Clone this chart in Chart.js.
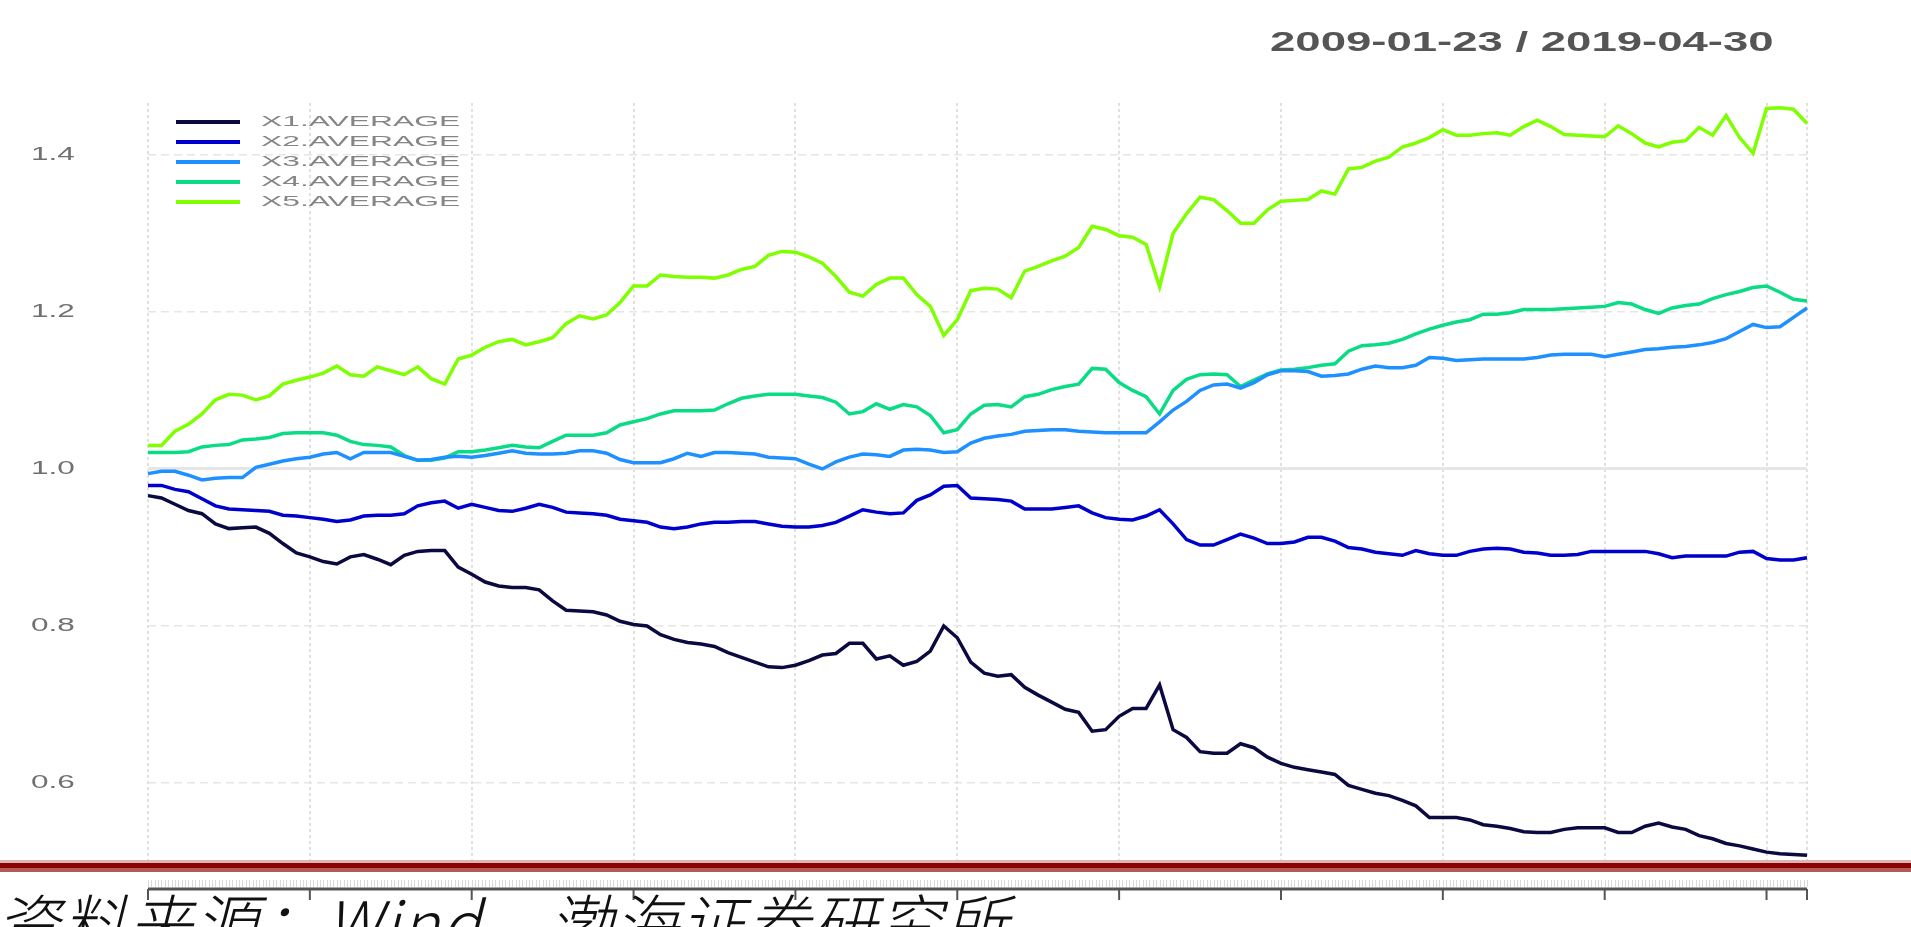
<!DOCTYPE html>
<html>
<head>
<meta charset="utf-8">
<title>X1-X5 AVERAGE</title>
<script src="https://cdn.jsdelivr.net/npm/chart.js@4.4.1/dist/chart.umd.min.js"></script>
<style>
  html, body { margin: 0; padding: 0; background: #fff; overflow: hidden; }
  #wrap { position: relative; width: 1911px; height: 927px; }
  #range { position: absolute; left: 1270px; top: 26px; font: bold 28px 'Liberation Sans', Arial, sans-serif;
           color: #555; white-space: nowrap; transform-origin: 0 0; }
  #band { position: absolute; left: 0; top: 860px; width: 1911px; height: 12px;
          background: linear-gradient(#dcb4b4 0 3px, #8b0000 3px 8px, #b25a5a 8px 12px); }
  #src { position: absolute; left: -4px; top: 888px; font: italic 300 64px 'Noto Sans CJK SC', sans-serif;
         letter-spacing: 2px; line-height: 1; color: #111; white-space: nowrap; }
</style>
</head>
<body>
<div id="wrap">
  <canvas id="chart"></canvas>
  <div id="range">2009-01-23 / 2019-04-30</div>
  <div id="band"></div>
  <div id="src">资料来源：Wind，渤海证券研究所</div>
</div>
<script>
// month-end observations, 2009-01 .. 2019-04
const months = [];
for (let y = 2009; y <= 2019; y++) {
  for (let m = 1; m <= 12; m++) {
    if (y === 2019 && m > 4) break;
    months.push(y + '-' + String(m).padStart(2, '0'));
  }
}
const seriesNames = ['X1.AVERAGE', 'X2.AVERAGE', 'X3.AVERAGE', 'X4.AVERAGE', 'X5.AVERAGE'];
const seriesColors = ['#0a0a40', '#0000cc', '#1e90ff', '#0adb85', '#7fff00'];
const yTicks = [0.6, 0.8, 1.0, 1.2, 1.4];

const x1 = [0.966, 0.963, 0.955, 0.947, 0.943, 0.930, 0.924, 0.925, 0.926, 0.918, 0.905, 0.893, 0.888, 0.882, 0.879, 0.888, 0.891, 0.885, 0.878, 0.890, 0.895, 0.896, 0.896, 0.875, 0.866,
  0.856, 0.851, 0.849, 0.849, 0.846, 0.832, 0.820, 0.819, 0.818, 0.814, 0.806, 0.802, 0.800, 0.789, 0.783, 0.779, 0.777, 0.774, 0.766, 0.760, 0.754, 0.748, 0.747, 0.750, 0.756,
  0.763, 0.765, 0.778, 0.778, 0.758, 0.762, 0.750, 0.755, 0.768, 0.800, 0.785, 0.754, 0.740, 0.736, 0.738, 0.722, 0.712, 0.703, 0.694, 0.690, 0.666, 0.668, 0.685, 0.695,
  0.695, 0.725, 0.668, 0.658, 0.640, 0.638, 0.638, 0.650, 0.645, 0.633, 0.625, 0.620, 0.617, 0.614, 0.611, 0.597, 0.592, 0.587, 0.584, 0.578, 0.571, 0.556, 0.556,
  0.556, 0.553, 0.547, 0.545, 0.542, 0.538, 0.537, 0.537, 0.541, 0.543, 0.543, 0.543, 0.537, 0.537, 0.545, 0.549, 0.544, 0.541, 0.533, 0.529, 0.523, 0.520, 0.516, 0.512, 0.510, 0.509, 0.508];
const x2 = [0.979, 0.979, 0.974, 0.971, 0.962, 0.953, 0.949, 0.948, 0.947, 0.946, 0.941, 0.940, 0.938, 0.936, 0.933, 0.935, 0.940, 0.941, 0.941, 0.943, 0.953, 0.957, 0.959, 0.950, 0.955,
  0.951, 0.947, 0.946, 0.950, 0.955, 0.951, 0.945, 0.944, 0.943, 0.941, 0.936, 0.934, 0.932, 0.926, 0.924, 0.926, 0.930, 0.932, 0.932, 0.933, 0.933, 0.930, 0.927, 0.926, 0.926,
  0.928, 0.932, 0.940, 0.948, 0.945, 0.943, 0.944, 0.960, 0.967, 0.978, 0.979, 0.963, 0.962, 0.961, 0.959, 0.949, 0.949, 0.949, 0.951, 0.953, 0.944, 0.938, 0.936, 0.935,
  0.940, 0.948, 0.930, 0.910, 0.903, 0.903, 0.910, 0.917, 0.912, 0.905, 0.905, 0.907, 0.913, 0.913, 0.908, 0.900, 0.898, 0.894, 0.892, 0.890, 0.896, 0.892, 0.890,
  0.890, 0.895, 0.898, 0.899, 0.898, 0.894, 0.893, 0.890, 0.890, 0.891, 0.895, 0.895, 0.895, 0.895, 0.895, 0.892, 0.887, 0.889, 0.889, 0.889, 0.889, 0.894, 0.895, 0.886, 0.884, 0.884, 0.887];
const x3 = [0.994, 0.997, 0.997, 0.992, 0.986, 0.988, 0.989, 0.989, 1.002, 1.006, 1.010, 1.013, 1.015, 1.019, 1.021, 1.013, 1.021, 1.021, 1.021, 1.016, 1.011, 1.012, 1.015, 1.016, 1.015,
  1.017, 1.020, 1.023, 1.020, 1.019, 1.019, 1.020, 1.023, 1.023, 1.020, 1.012, 1.008, 1.008, 1.008, 1.013, 1.020, 1.016, 1.021, 1.021, 1.020, 1.019, 1.015, 1.014, 1.013, 1.006,
  1.000, 1.009, 1.015, 1.019, 1.018, 1.016, 1.024, 1.025, 1.024, 1.021, 1.022, 1.033, 1.039, 1.042, 1.044, 1.048, 1.049, 1.050, 1.050, 1.048, 1.047, 1.046, 1.046, 1.046,
  1.046, 1.060, 1.075, 1.086, 1.100, 1.107, 1.108, 1.103, 1.110, 1.120, 1.125, 1.125, 1.124, 1.118, 1.119, 1.121, 1.127, 1.131, 1.129, 1.129, 1.132, 1.142, 1.141,
  1.138, 1.139, 1.140, 1.140, 1.140, 1.140, 1.142, 1.145, 1.146, 1.146, 1.146, 1.143, 1.146, 1.149, 1.152, 1.153, 1.155, 1.156, 1.158, 1.161, 1.166, 1.175, 1.184, 1.180, 1.181, 1.193, 1.205];
const x4 = [1.021, 1.021, 1.021, 1.022, 1.028, 1.030, 1.031, 1.037, 1.038, 1.040, 1.045, 1.046, 1.046, 1.046, 1.043, 1.035, 1.031, 1.030, 1.028, 1.017, 1.011, 1.011, 1.014, 1.022, 1.022,
  1.024, 1.027, 1.030, 1.028, 1.027, 1.035, 1.043, 1.043, 1.043, 1.046, 1.056, 1.060, 1.064, 1.070, 1.074, 1.074, 1.074, 1.075, 1.083, 1.090, 1.093, 1.095, 1.095, 1.095, 1.093,
  1.091, 1.085, 1.070, 1.073, 1.083, 1.076, 1.082, 1.079, 1.068, 1.046, 1.050, 1.070, 1.081, 1.082, 1.079, 1.092, 1.095, 1.101, 1.105, 1.108, 1.128, 1.127, 1.110, 1.100,
  1.092, 1.070, 1.100, 1.114, 1.120, 1.121, 1.120, 1.105, 1.113, 1.121, 1.126, 1.127, 1.129, 1.132, 1.134, 1.150, 1.157, 1.158, 1.160, 1.165, 1.172, 1.178, 1.183,
  1.187, 1.190, 1.197, 1.197, 1.199, 1.203, 1.203, 1.203, 1.204, 1.205, 1.206, 1.207, 1.212, 1.210, 1.203, 1.198, 1.205, 1.208, 1.210, 1.217, 1.222, 1.226, 1.231, 1.233, 1.225, 1.216, 1.214];
const x5 = [1.030, 1.030, 1.048, 1.057, 1.070, 1.088, 1.095, 1.094, 1.088, 1.093, 1.108, 1.113, 1.117, 1.122, 1.131, 1.120, 1.118, 1.130, 1.125, 1.120, 1.130, 1.115, 1.108, 1.140, 1.145,
  1.155, 1.162, 1.165, 1.158, 1.162, 1.167, 1.185, 1.195, 1.191, 1.196, 1.212, 1.233, 1.233, 1.247, 1.245, 1.244, 1.244, 1.243, 1.247, 1.254, 1.258, 1.272, 1.277, 1.276, 1.270,
  1.262, 1.245, 1.225, 1.220, 1.235, 1.243, 1.243, 1.222, 1.207, 1.170, 1.190, 1.227, 1.230, 1.229, 1.218, 1.252, 1.258, 1.265, 1.271, 1.282, 1.309, 1.305, 1.297, 1.295,
  1.286, 1.232, 1.300, 1.325, 1.346, 1.343, 1.329, 1.313, 1.313, 1.330, 1.341, 1.342, 1.343, 1.354, 1.350, 1.382, 1.384, 1.392, 1.397, 1.410, 1.415, 1.422, 1.432,
  1.425, 1.425, 1.427, 1.428, 1.425, 1.436, 1.444, 1.436, 1.426, 1.425, 1.424, 1.423, 1.437, 1.427, 1.415, 1.410, 1.416, 1.418, 1.435, 1.425, 1.450, 1.422, 1.402, 1.459, 1.460, 1.458, 1.440];

const seriesValues = [x1, x2, x3, x4, x5];

// y labels, legend and the separate x axis strip are drawn by hand (stretched text)
const decor = {
  id: 'decor',
  afterDraw(chart) {
    const { ctx, chartArea: a, scales: { x, y } } = chart;
    ctx.save();
    ctx.textBaseline = 'middle';

    ctx.font = '18px "Liberation Sans", Arial, sans-serif';
    ctx.fillStyle = '#707070';
    y.ticks.forEach(t => {
      ctx.save();
      ctx.translate(31, y.getPixelForValue(t.value));
      ctx.scale(1.75, 1);
      ctx.fillText(t.value.toFixed(1), 0, 0);
      ctx.restore();
    });

    chart.data.datasets.forEach((ds, i) => {
      const ly = 122 + i * 20;
      ctx.strokeStyle = ds.borderColor;
      ctx.lineWidth = 4;
      ctx.beginPath(); ctx.moveTo(176, ly); ctx.lineTo(240, ly); ctx.stroke();
      ctx.save();
      ctx.translate(261, ly);
      ctx.scale(2.12, 1);
      ctx.font = '15px "Liberation Sans", Arial, sans-serif';
      ctx.fillStyle = '#858585';
      ctx.fillText(ds.label, 0, 0);
      ctx.restore();
    });

    const axY = 889;
    ctx.strokeStyle = '#d9d9d9';
    ctx.lineWidth = 1;
    for (let v = 0; v <= months.length - 1; v += 0.25) {
      const px = Math.round(x.getPixelForValue(v)) + 0.5;
      ctx.beginPath(); ctx.moveTo(px, axY - 9); ctx.lineTo(px, axY - 2); ctx.stroke();
    }
    ctx.strokeStyle = '#555';
    ctx.lineWidth = 3;
    ctx.beginPath(); ctx.moveTo(a.left, axY); ctx.lineTo(a.right, axY); ctx.stroke();
    ctx.lineWidth = 2;
    x.ticks.forEach(t => {
      const px = x.getPixelForValue(t.value);
      ctx.beginPath(); ctx.moveTo(px, axY); ctx.lineTo(px, axY + 11); ctx.stroke();
    });
    ctx.restore();
  }
};

new Chart(document.getElementById('chart'), {
  type: 'line',
  data: {
    labels: months,
    datasets: seriesNames.map((name, i) => ({
      label: name,
      data: seriesValues[i],
      borderColor: seriesColors[i],
      backgroundColor: seriesColors[i],
      borderWidth: 3.5,
      pointRadius: 0,
      tension: 0,
      fill: false
    }))
  },
  options: {
    responsive: true,
    maintainAspectRatio: false,
    animation: false,
    layout: { padding: { left: 0, top: 103, right: 104, bottom: 0 } },
    plugins: { legend: { display: false }, tooltip: { enabled: false } },
    scales: {
      x: {
        type: 'category',
        ticks: { display: false },
        afterBuildTicks: s => {
          s.ticks = s.ticks.filter(t => months[t.value].endsWith('-01') || t.value === months.length - 1);
        },
        afterFit: s => { s.height = 67; },
        grid: { color: '#e0e0e0', lineWidth: 2, drawTicks: false },
        border: { display: false, dash: [3, 3] }
      },
      y: {
        min: 0.502,
        max: 1.466,
        ticks: { display: false },
        afterBuildTicks: s => { s.ticks = yTicks.map(v => ({ value: v })); },
        afterFit: s => { s.width = 148; },
        grid: {
          color: '#e6e6e6',
          lineWidth: c => (c.tick && c.tick.value === 1 ? 3 : 1.5),
          drawTicks: false
        },
        border: { display: false, dash: c => (c.tick && c.tick.value === 1 ? [] : [8, 5]) }
      }
    }
  },
  plugins: [decor]
});

const range = document.getElementById('range');
range.style.transform = 'scaleX(' + (504 / range.offsetWidth) + ')';
</script>
</body>
</html>
